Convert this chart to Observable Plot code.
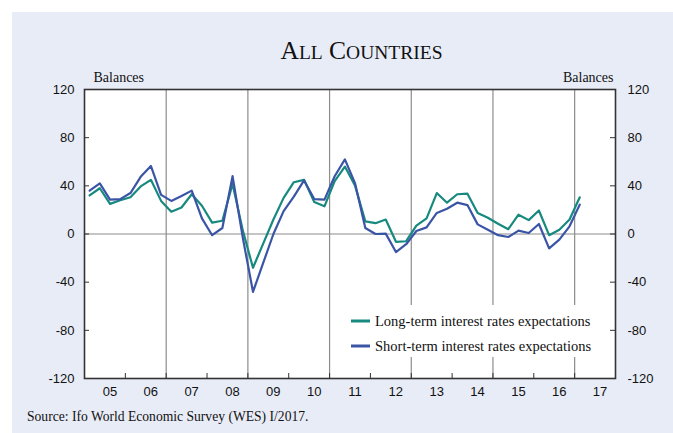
<!DOCTYPE html>
<html><head><meta charset="utf-8">
<script src="https://cdn.jsdelivr.net/npm/d3@7"></script>
<script src="https://cdn.jsdelivr.net/npm/@observablehq/plot@0.6"></script>
<style>
html,body{margin:0;padding:0;background:#fff;}
#wrap{position:relative;width:673px;height:433px;overflow:hidden;background:#fff;}
#panel{position:absolute;left:12px;top:12px;width:661px;height:421px;background:#e8ecf7;}
#title{position:absolute;left:0;width:673px;top:37px;text-align:center;font-family:"Liberation Serif","Times New Roman",serif;font-size:25.5px;color:#111;padding-left:50px;box-sizing:border-box;line-height:28px;}
.sc{font-size:19.5px;}
#chart{position:absolute;left:0;top:0;}
#legend{position:absolute;left:344px;top:305px;width:254px;height:52px;background:#fff;font-family:"Liberation Serif","Times New Roman",serif;font-size:14.5px;color:#111;}
.row{position:absolute;left:0;height:16px;line-height:16px;white-space:nowrap;}
.row svg{position:absolute;left:7px;top:3px;}
.row span{position:absolute;left:31px;top:0;}
#source{position:absolute;left:27px;top:409px;font-family:"Liberation Serif","Times New Roman",serif;font-size:13.6px;color:#111;}
</style>
</head>
<body>
<div id="wrap">
  <div id="panel"></div>
  <div id="title">A<span class="sc">LL</span> C<span class="sc">OUNTRIES</span></div>
  <div id="chart"></div>
  <div id="legend"></div>
  <div id="source">Source: Ifo World Economic Survey (WES) I/2017.</div>
</div>
<script>
// Quarterly data, 2005 Q1 – 2017 Q1
const startYear = 2005;
const longTerm = [32, 38, 25, 28, 30.5, 39.5, 45, 27.5, 18.5, 22, 33, 23.5, 9.5, 11, 41.5, 3, -28, -8, 12, 30, 43, 45, 26.5, 23, 44, 56, 40, 10.5, 9, 12, -6.5, -6, 7, 13, 34, 26, 33, 33.5, 17.5, 13.5, 8.5, 4, 16, 11.5, 19.5, -1, 3.5, 12, 30.5];
const shortTerm = [36, 42, 28.5, 29, 34, 47.5, 56.5, 32.5, 27.5, 31.5, 36, 13, -1, 5, 48, -3, -48, -24, 0, 19, 31, 44.5, 29, 28.5, 48, 62, 42, 5, 0, 0.3, -15, -8.5, 2.5, 5.5, 17.5, 21, 26, 24, 8, 3.5, -1, -2.5, 2.8, 0.8, 8.3, -12, -4.7, 6.4, 24.4];
const seriesNames = ["Long-term interest rates expectations", "Short-term interest rates expectations"];
const yTicks = [-120, -80, -40, 0, 40, 80, 120];
const yearLabels = ["05","06","07","08","09","10","11","12","13","14","15","16","17"];
const gridYears = [2007, 2009, 2011, 2013, 2015, 2017];
const yearBounds = [2006, 2007, 2008, 2009, 2010, 2011, 2012, 2013, 2014, 2015, 2016, 2017];

const green = "#17897f", blue = "#3b55a6";
const data = longTerm.map((v, i) => ({t: startYear + (i + 0.5) / 4, long: v, short: shortTerm[i]}));
const labelPos = yearLabels.map((s, i) => startYear + i + 0.5);

const W = 673, H = 410, mL = 84, mR = 58, mT = 89, mB = H - 378;
const plotW = W - mL - mR, plotH = H - mT - mB;
const fmtY = (d) => String(d);

const chart = Plot.plot({
  width: W, height: H,
  marginLeft: mL, marginRight: mR, marginTop: mT, marginBottom: mB,
  x: {domain: [startYear, startYear + yearLabels.length], label: null},
  y: {domain: [-120, 120], label: null},
  style: {background: "transparent", fontFamily: "'Liberation Sans', Arial, sans-serif", fontSize: "13px", color: "#111", overflow: "visible"},
  marks: [
    Plot.frame({fill: "white", stroke: null}),
    Plot.ruleX(gridYears, {stroke: "#8c8c8c", strokeWidth: 1.2}),
    Plot.ruleY([0], {stroke: "#8c8c8c", strokeWidth: 1.2}),
    Plot.ruleY(yTicks, {insetRight: plotW - 5, stroke: "#333"}),
    Plot.ruleY(yTicks, {insetLeft: plotW - 5, stroke: "#333"}),
    Plot.ruleX(yearBounds, {insetTop: plotH - 5, stroke: "#333"}),
    Plot.line(data, {x: "t", y: "long", stroke: green, strokeWidth: 2.2}),
    Plot.line(data, {x: "t", y: "short", stroke: blue, strokeWidth: 2.2}),
    Plot.frame({stroke: "#333", strokeWidth: 1.6}),
    Plot.axisY({anchor: "left", ticks: yTicks, tickFormat: fmtY, tickSize: 0, tickPadding: 10, fontSize: 13, label: null}),
    Plot.axisY({anchor: "right", ticks: yTicks, tickFormat: fmtY, tickSize: 0, tickPadding: 12, fontSize: 13, label: null}),
    Plot.axisX({ticks: labelPos, tickFormat: (d) => yearLabels[Math.floor(d - startYear)], tickSize: 0, tickPadding: 8, dx: 5, fontSize: 13, label: null}),
    Plot.text(["Balances"], {frameAnchor: "top-left", dx: 9, dy: -8, textAnchor: "start", lineAnchor: "bottom", fontFamily: "'Liberation Serif', 'Times New Roman', serif", fontSize: 14}),
    Plot.text(["Balances"], {frameAnchor: "top-right", dx: -2, dy: -8, textAnchor: "end", lineAnchor: "bottom", fontFamily: "'Liberation Serif', 'Times New Roman', serif", fontSize: 14})
  ]
});
document.getElementById("chart").appendChild(chart);

const legend = document.getElementById("legend");
[[seriesNames[0], green, 8], [seriesNames[1], blue, 33]].forEach(([name, color, top]) => {
  const row = document.createElement("div");
  row.className = "row";
  row.style.top = top + "px";
  row.innerHTML = `<svg width="19" height="10"><line x1="0" x2="19" y1="5" y2="5" stroke="${color}" stroke-width="3"/></svg><span>${name}</span>`;
  legend.appendChild(row);
});
</script>
</body></html>
